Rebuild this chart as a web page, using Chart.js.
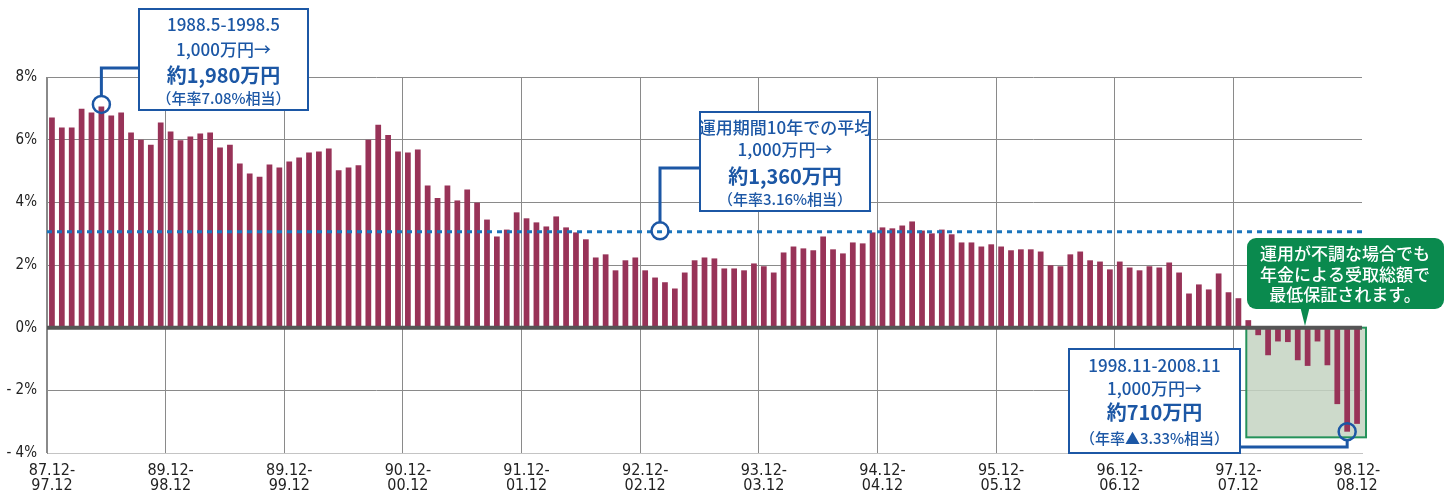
<!DOCTYPE html>
<html lang="ja">
<head>
<meta charset="utf-8">
<title>運用期間10年の年率推移</title>
<script src="https://cdn.jsdelivr.net/npm/chart.js@4.4.1/dist/chart.umd.min.js"></script>
<style>
    html, body { margin: 0; padding: 0; background: #fff; }
    #wrap { position: relative; width: 1451px; height: 491px; }
</style>
</head>
<body>
<div id="wrap"><canvas id="rateChart"></canvas></div>
<script>
// tick labels shown every 12 months (text kept as printed)
const TICK_LABELS = [
    ['87.12-', '97.12'], ['89.12-', '98.12'], ['89.12-', '99.12'], ['90.12-', '00.12'],
    ['91.12-', '01.12'], ['92.12-', '02.12'], ['93.12-', '03.12'], ['94.12-', '04.12'],
    ['95.12-', '05.12'], ['96.12-', '06.12'], ['97.12-', '07.12'], ['98.12-', '08.12']
];

// 10-year annualized return (%) for each start month, 87.12 ... 98.12
const RETURNS_87_89 = [6.71, 6.39, 6.39, 6.99, 6.87, 7.06, 6.77, 6.87, 6.23, 6.00, 5.84, 6.55,
                       6.26, 5.98, 6.10, 6.20, 6.23, 5.75, 5.84, 5.24, 4.92, 4.82, 5.21, 5.11];
const RETURNS_89_91 = [5.30, 5.43, 5.59, 5.62, 5.72, 5.02, 5.11, 5.18, 6.00, 6.48, 6.15, 5.62,
                       5.59, 5.69, 4.54, 4.14, 4.54, 4.06, 4.41, 3.99, 3.45, 2.91, 3.13, 3.68];
const RETURNS_91_93 = [3.49, 3.36, 3.23, 3.55, 3.20, 3.04, 2.82, 2.24, 2.34, 1.83, 2.15, 2.24,
                       1.83, 1.60, 1.45, 1.25, 1.76, 2.15, 2.24, 2.21, 1.89, 1.89, 1.83, 2.05];
const RETURNS_93_95 = [1.96, 1.76, 2.40, 2.59, 2.53, 2.47, 2.91, 2.50, 2.37, 2.72, 2.69, 3.04,
                       3.20, 3.17, 3.26, 3.39, 3.10, 3.01, 3.13, 2.98, 2.72, 2.72, 2.59, 2.66];
const RETURNS_95_97 = [2.59, 2.47, 2.50, 2.50, 2.43, 1.99, 1.96, 2.34, 2.43, 2.15, 2.11, 1.86,
                       2.11, 1.92, 1.83, 1.96, 1.92, 2.08, 1.76, 1.09, 1.38, 1.22, 1.73, 1.13];
const RETURNS_97_98 = [0.94, 0.24, -0.24, -0.88, -0.44, -0.46, -1.04, -1.22, -0.44, -1.20, -2.44, -3.32, -3.07];

const RETURNS = [].concat(RETURNS_87_89, RETURNS_89_91, RETURNS_91_93, RETURNS_93_95, RETURNS_95_97, RETURNS_97_98);

const AVERAGE_RATE = 3.06;

// index of the months pointed at by the callouts
const BEST_INDEX = 5;       // 1988.5
const WORST_INDEX = 131;    // 1998.11
const AVG_MARK_INDEX = 61.5;
const GUARANTEE_FROM = 121;

// period labels for each month: 87.12-97.12 ...
const PERIODS = RETURNS.map((v, i) => {
    const m = (11 + i) % 12 + 1;
    const y = 87 + Math.floor((11 + i) / 12);
    const pad = n => String(n % 100).padStart(2, '0');
    return `${pad(y)}.${m}-${pad(y + 10)}.${m}`;
});

const BAR_COLOR = '#983358';
const BLUE = '#1c57a5';
const GREEN = '#0a8a4e';
const GRID = '#8a8a8a';
const JP_FONT = '"Noto Sans CJK JP", "Noto Sans", sans-serif';
const NUM_FONT = '"DejaVu Sans Condensed", "Liberation Sans Narrow", sans-serif';

const CALLOUTS = [
    { x: 139, y: 9, w: 169, h: 101, lines: [
        ['1988.5-1998.5', 25, 500, 17],
        ['1,000万円→', 50, 500, 17],
        ['約1,980万円', 75, 'bold', 20],
        ['（年率7.08%相当）', 98, 500, 15]
    ]},
    { x: 700, y: 112, w: 170, h: 99, lines: [
        ['運用期間10年での平均', 128, 500, 17],
        ['1,000万円→', 150, 500, 17],
        ['約1,360万円', 176, 'bold', 20],
        ['（年率3.16%相当）', 199, 500, 15]
    ]},
    { x: 1069, y: 349, w: 171, h: 104, lines: [
        ['1998.11-2008.11', 366, 500, 17],
        ['1,000万円→', 389, 500, 17],
        ['約710万円', 412, 'bold', 20],
        ['（年率▲3.33%相当）', 438, 500, 15]
    ]}
];

const BUBBLE_LINES = ['運用が不調な場合でも', '年金による受取総額で', '最低保証されます。'];

function roundRect(ctx, x, y, w, h, r) {
    ctx.beginPath();
    ctx.moveTo(x + r, y);
    ctx.arcTo(x + w, y, x + w, y + h, r);
    ctx.arcTo(x + w, y + h, x, y + h, r);
    ctx.arcTo(x, y + h, x, y, r);
    ctx.arcTo(x, y, x + w, y, r);
    ctx.closePath();
}

function drawBox(ctx, box) {
    ctx.save();
    ctx.fillStyle = '#fff';
    ctx.fillRect(box.x, box.y, box.w, box.h);
    ctx.strokeStyle = BLUE;
    ctx.lineWidth = 2;
    ctx.strokeRect(box.x, box.y, box.w, box.h);
    ctx.fillStyle = BLUE;
    ctx.textAlign = 'center';
    ctx.textBaseline = 'middle';
    const cx = box.x + box.w / 2;
    box.lines.forEach(([text, y, weight, size]) => {
        ctx.font = `${weight} ${size}px ${JP_FONT}`;
        ctx.fillText(text, cx, y);
    });
    ctx.restore();
}

function drawLeader(ctx, points, circle) {
    ctx.save();
    ctx.strokeStyle = BLUE;
    ctx.lineWidth = 3;
    ctx.beginPath();
    points.forEach((p, i) => i ? ctx.lineTo(p[0], p[1]) : ctx.moveTo(p[0], p[1]));
    ctx.stroke();
    ctx.lineWidth = 2.5;
    ctx.beginPath();
    ctx.arc(circle[0], circle[1], 8.5, 0, Math.PI * 2);
    ctx.stroke();
    ctx.restore();
}

// green shaded "guaranteed" zone, under the bars
const zonePlugin = {
    id: 'zone',
    beforeDatasetsDraw(chart) {
        const { ctx, chartArea, scales: { x, y } } = chart;
        const left = x.getPixelForValue(GUARANTEE_FROM) - 2;
        const right = chartArea.right + 4;
        const top = y.getPixelForValue(0);
        const bottom = y.getPixelForValue(-3.5);
        ctx.save();
        ctx.fillStyle = 'rgba(196, 212, 194, 0.85)';
        ctx.fillRect(left, top, right - left, bottom - top);
        ctx.strokeStyle = '#25925a';
        ctx.lineWidth = 2;
        ctx.strokeRect(left, top, right - left, bottom - top);
        ctx.restore();
    }
};

const notesPlugin = {
    id: 'notes',
    afterDatasetsDraw(chart) {
        const { ctx, chartArea, scales: { x, y } } = chart;

        // zero line
        const y0 = y.getPixelForValue(0);
        ctx.save();
        ctx.strokeStyle = '#555';
        ctx.lineWidth = 4;
        ctx.beginPath();
        ctx.moveTo(chartArea.left, y0);
        ctx.lineTo(chartArea.right, y0);
        ctx.stroke();

        // average line
        const yAvg = y.getPixelForValue(AVERAGE_RATE);
        ctx.strokeStyle = '#1b75bc';
        ctx.lineWidth = 3;
        ctx.setLineDash([5, 5]);
        ctx.beginPath();
        ctx.moveTo(chartArea.left, yAvg);
        ctx.lineTo(chartArea.right, yAvg);
        ctx.stroke();
        ctx.restore();

        // callouts
        const bx = x.getPixelForValue(BEST_INDEX);
        const by = y.getPixelForValue(RETURNS[BEST_INDEX]) - 2;
        drawLeader(ctx, [[139, 68], [bx, 68], [bx, by - 8.5]], [bx, by]);

        const ax = (x.getPixelForValue(Math.floor(AVG_MARK_INDEX)) + x.getPixelForValue(Math.ceil(AVG_MARK_INDEX))) / 2;
        drawLeader(ctx, [[700, 168], [ax, 168], [ax, yAvg - 8.5]], [ax, yAvg - 1]);

        const wx = x.getPixelForValue(WORST_INDEX);
        const wy = y.getPixelForValue(RETURNS[WORST_INDEX]);
        drawLeader(ctx, [[1240, 447], [wx, 447], [wx, wy + 8.5]], [wx, wy]);

        CALLOUTS.forEach(b => drawBox(ctx, b));

        // green speech bubble
        ctx.save();
        ctx.fillStyle = GREEN;
        roundRect(ctx, 1247, 238, 197, 71, 9);
        ctx.fill();
        ctx.beginPath();
        ctx.moveTo(1300, 306);
        ctx.lineTo(1310, 306);
        ctx.lineTo(1305, 326);
        ctx.closePath();
        ctx.fill();
        ctx.fillStyle = '#fff';
        ctx.font = `500 17px ${JP_FONT}`;
        ctx.textAlign = 'center';
        ctx.textBaseline = 'middle';
        BUBBLE_LINES.forEach((t, i) => ctx.fillText(t, 1345, 254 + i * 20.5));
        ctx.restore();
    }
};

const chart = new Chart(document.getElementById('rateChart'), {
    type: 'bar',
    data: {
        labels: PERIODS,
        datasets: [{
            data: RETURNS,
            backgroundColor: BAR_COLOR,
            barPercentage: 0.58,
            categoryPercentage: 1
        }]
    },
    options: {
        responsive: true,
        maintainAspectRatio: false,
        animation: false,
        layout: { padding: { top: 77, right: 89, left: 0, bottom: 0 } },
        plugins: {
            legend: { display: false },
            tooltip: { enabled: false }
        },
        scales: {
            x: {
                offset: true,
                afterFit: s => { s.height = 38; },
                grid: {
                    offset: true,
                    drawTicks: false,
                    // yearly lines only; the last year sits on the right border
                    color: c => ((c.index % 12 === 0 && c.index < RETURNS.length - 1) || c.index === RETURNS.length) ? GRID : 'rgba(0,0,0,0)'
                },
                border: { display: true, color: '#c4c4c4' },
                ticks: {
                    autoSkip: false,
                    maxRotation: 0,
                    padding: 11,
                    color: '#222',
                    font: { family: NUM_FONT, size: 16, lineHeight: 0.9 },
                    callback: (v, i) => i % 12 === 0 ? TICK_LABELS[i / 12] : ''
                }
            },
            y: {
                min: -4,
                max: 8,
                afterFit: s => { s.width = 47; },
                grid: { drawTicks: false, color: GRID },
                border: { display: true, color: GRID },
                ticks: {
                    stepSize: 2,
                    padding: 10,
                    color: '#222',
                    font: { family: NUM_FONT, size: 15 },
                    callback: v => v < 0 ? `- ${Math.abs(v)}%` : `${v}%`
                }
            }
        }
    },
    plugins: [zonePlugin, notesPlugin]
});
</script>
</body>
</html>
